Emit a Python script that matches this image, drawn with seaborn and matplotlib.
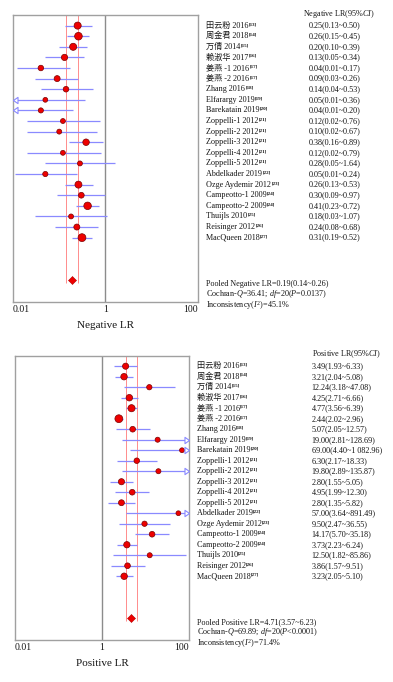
import numpy as np
import pandas as pd
import matplotlib
matplotlib.use("Agg")
import matplotlib.pyplot as plt
import matplotlib.transforms as mtrans
from matplotlib.path import Path
from matplotlib.markers import MarkerStyle
from matplotlib.ticker import NullLocator
import seaborn as sns

# ---------------- data ----------------
studies = ["田云粉 2016", "周金君 2018", "万倩 2014", "赖淑华 2017", "姜燕 -1 2016",
           "姜燕 -2 2016", "Zhang 2016", "Elfarargy 2019", "Barekatain 2019",
           "Zoppelli-1 2012", "Zoppelli-2 2012", "Zoppelli-3 2012", "Zoppelli-4 2012",
           "Zoppelli-5 2012", "Abdelkader 2019", "Ozge Aydemir 2012", "Campeotto-1 2009",
           "Campeotto-2 2009", "Thuijls 2010", "Reisinger 2012", "MacQueen 2018"]
refs = ["13", "14", "15", "16", "17", "17", "18", "19", "20", "21", "21", "21", "21",
        "21", "22", "23", "24", "24", "25", "26", "27"]

neg_lr = [0.25, 0.26, 0.20, 0.13, 0.04, 0.09, 0.14, 0.05, 0.04, 0.12, 0.10, 0.38, 0.12,
          0.28, 0.05, 0.26, 0.30, 0.41, 0.18, 0.24, 0.31]
neg_lo = [0.13, 0.15, 0.10, 0.05, 0.012, 0.03, 0.04, 0.008, 0.008, 0.02, 0.02, 0.16, 0.02,
          0.05, 0.011, 0.13, 0.09, 0.23, 0.03, 0.08, 0.19]
neg_hi = [0.50, 0.45, 0.39, 0.34, 0.17, 0.26, 0.53, 0.36, 0.20, 0.76, 0.67, 0.89, 0.79,
          1.64, 0.24, 0.53, 0.97, 0.72, 1.07, 0.68, 0.52]
neg_pooled = [0.19, 0.14, 0.26]
neg_q, neg_df, neg_p, neg_i2 = 36.41, 20, "=0.0137", 45.1

pos_lr = [3.49, 3.21, 12.24, 4.25, 4.77, 2.44, 5.07, 19.00, 69.00, 6.30, 19.80, 2.80,
          4.95, 2.80, 57.00, 9.50, 14.17, 3.73, 12.50, 3.86, 3.23]
pos_lo = [1.93, 2.04, 3.18, 2.71, 3.56, 2.02, 2.05, 2.81, 4.40, 2.17, 2.89, 1.55, 1.99,
          1.35, 3.64, 2.47, 5.70, 2.23, 1.82, 1.57, 2.05]
pos_hi = [6.33, 5.08, 47.08, 6.66, 6.39, 2.96, 12.57, 128.69, 1082.96, 18.33, 135.87,
          5.05, 12.30, 5.82, 891.49, 36.55, 35.18, 6.24, 85.86, 9.51, 5.10]
pos_pooled = [4.71, 3.57, 6.23]
pos_q, pos_df, pos_p, pos_i2 = 69.89, 20, "<0.0001", 71.4

x_ticks = [0.01, 1, 100]
x_ticklabels = ["0.01", "1", "100"]

# ---------------- style ----------------
sns.set_style("white")
plt.rcParams["font.family"] = ["Liberation Serif", "Noto Sans CJK SC"]
plt.rcParams["mathtext.fontset"] = "custom"
plt.rcParams["mathtext.rm"] = "Liberation Serif"
plt.rcParams["mathtext.it"] = "Liberation Serif:italic"

W, H = 393, 682
fig = plt.figure(figsize=(W / 100, H / 100), dpi=100)
fig.patch.set_facecolor("white")

TXT = "#151515"
CI_COL = "#8a8aff"
FS = 5.9

left_arrow = MarkerStyle(Path([(0, 0), (1, 0.7), (1, -0.7), (0, 0)],
                              [Path.MOVETO, Path.LINETO, Path.LINETO, Path.CLOSEPOLY]))
right_arrow = MarkerStyle(Path([(0, 0), (-1, 0.7), (-1, -0.7), (0, 0)],
                               [Path.MOVETO, Path.LINETO, Path.LINETO, Path.CLOSEPOLY]))


def fmt(v):
    return f"{v:,.2f}".replace(",", " ")


def panel(box, lr, lo, hi, pooled, q, dfv, p, i2, kind, name_x, val_x, hdr_x):
    l, t, r, b = box
    ax = fig.add_axes([l / W, 1 - b / H, (r - l) / W, (b - t) / H])
    xmin, xmax = 0.01, 100
    rows = np.arange(1, len(lr) + 1)
    lr_a, lo_a, hi_a = np.array(lr), np.array(lo), np.array(hi)
    se = (np.log(hi_a) - np.log(lo_a)) / 3.92
    w = 1 / se ** 2
    df = pd.DataFrame({"lr": lr_a, "row": rows, "wt": (w / w.max()) ** 0.3})

    ax.set_xscale("log")
    ax.set_xlim(xmin, xmax)
    ax.set_ylim(27.07, 0)

    # reference line at 1
    ax.axvline(1, color="#8c8c8c", lw=1.0, zorder=1)
    # pooled CI lines
    ax.vlines([pooled[1], pooled[2]], 0, 25.3, color="#ff8c8c", lw=0.7, zorder=2)

    # CI lines
    ax.hlines(rows, np.clip(lo_a, xmin, xmax), np.clip(hi_a, xmin, xmax),
              color=CI_COL, lw=0.9, zorder=3)
    for rw, a, bb in zip(rows, lo_a, hi_a):
        if a < xmin:
            ax.plot([xmin], [rw], marker=left_arrow, ms=6.5, mfc="white",
                    mec=CI_COL, mew=0.8, clip_on=False, zorder=5)
        if bb > xmax:
            ax.plot([xmax], [rw], marker=right_arrow, ms=6.5, mfc="white",
                    mec=CI_COL, mew=0.8, clip_on=False, zorder=5)

    sns.scatterplot(data=df, x="lr", y="row", size="wt", sizes=(12, 32),
                    color="#ee0000", edgecolor="#7a0000", linewidth=0.5,
                    legend=False, ax=ax, zorder=4)
    ax.plot([pooled[0]], [25], marker="D", ms=4.4, color="#ee0000",
            mec="#b00000", mew=0.4, zorder=5)

    # axes styling
    for s in ax.spines.values():
        s.set_color("#a0a0a0")
        s.set_linewidth(1.0)
    ax.set_xticks(x_ticks)
    ax.set_xticklabels(x_ticklabels)
    ax.xaxis.set_minor_locator(NullLocator())
    ax.set_yticks([])
    ax.tick_params(axis="x", length=0, pad=2, labelsize=7, labelcolor=TXT)
    tl = ax.get_xticklabels()
    tl[0].set_ha("left")
    tl[-1].set_ha("right")
    ax.set_xlabel(f"{kind} LR", fontsize=8, color=TXT, labelpad=5)
    ax.set_ylabel("")

    # text columns
    tr = mtrans.blended_transform_factory(fig.transFigure, ax.transData)
    ax.text(hdr_x / W, -0.1, f"{kind} LR(95%$CI$)", transform=tr, fontsize=FS,
            color=TXT, va="center", ha="left", clip_on=False)
    for rw, name, ref, v, a, bb in zip(rows, studies, refs, lr_a, lo_a, hi_a):
        tx = ax.text(name_x / W, rw, name, transform=tr, fontsize=FS, color=TXT,
                     va="center", ha="left", clip_on=False)
        ax.annotate(f"[{ref}]", xy=(1, 1), xycoords=tx, xytext=(0.2, -0.3),
                    textcoords="offset points", fontsize=3.6, color=TXT,
                    va="top", ha="left", fontweight="bold")
        ax.text(val_x / W, rw, f"{fmt(v)}({fmt(a)}~{fmt(bb)})", transform=tr,
                fontsize=FS, color=TXT, va="center", ha="left", clip_on=False)

    lines = [f"Pooled {kind} LR={pooled[0]:.2f}({pooled[1]:.2f}~{pooled[2]:.2f})",
             f"Cochran-$Q$={q:.2f}; $df$={dfv}($P${p})",
             f"Inconsistency($I^2$)={i2:.1f}%"]
    for yy, s in zip([25.4, 26.35, 27.4], lines):
        ax.text(name_x / W, yy, s, transform=tr, fontsize=FS, color=TXT,
                va="center", ha="left", clip_on=False)
    return ax


panel((13, 15, 198, 302), neg_lr, neg_lo, neg_hi, neg_pooled, neg_q, neg_df, neg_p,
      neg_i2, "Negative", 206, 309, 303)
panel((15, 355.7, 189, 640), pos_lr, pos_lo, pos_hi, pos_pooled, pos_q, pos_df, pos_p,
      pos_i2, "Positive", 196.7, 311.7, 311.7)

fig.savefig("out.png", dpi=100, facecolor="white")
